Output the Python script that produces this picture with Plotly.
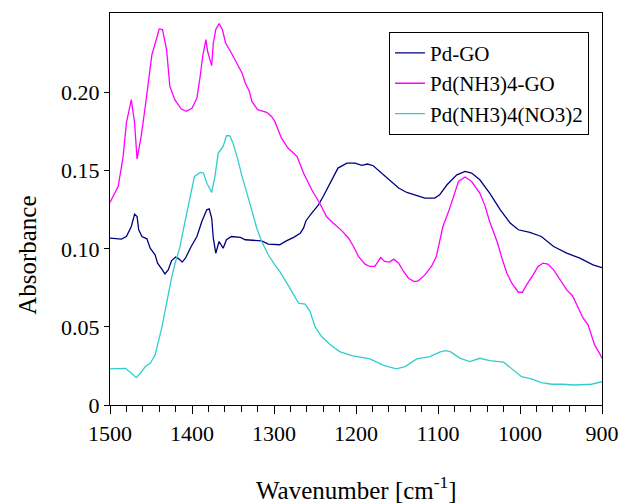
import plotly.graph_objects as go

# IR absorbance spectra, wavenumber in cm^-1 (descending) and absorbance
pdgo_wn = [1500, 1486, 1480, 1474, 1470, 1467, 1465, 1461, 1455, 1451, 1445, 1442,
           1437, 1433, 1429, 1425, 1420, 1416, 1412, 1408, 1401, 1394, 1388, 1382,
           1379, 1376, 1374, 1371, 1367, 1365, 1362, 1358, 1352, 1341, 1335, 1315,
           1307, 1293, 1285, 1276, 1268, 1264, 1261, 1254, 1246, 1240, 1230, 1222,
           1211, 1201, 1193, 1186, 1179, 1171, 1161, 1148, 1138, 1126, 1116, 1104,
           1098, 1089, 1077, 1067, 1059, 1049, 1037, 1024, 1012, 1002, 988, 974,
           959, 943, 927, 911, 900]
pdgo_abs = [0.1068, 0.1062, 0.1079, 0.1143, 0.1222, 0.1207, 0.1122, 0.1079, 0.1064,
            0.1004, 0.0962, 0.0908, 0.0872, 0.0840, 0.0865, 0.0923, 0.0947, 0.0936,
            0.0915, 0.0940, 0.1015, 0.1079, 0.1175, 0.1250, 0.1256, 0.1197, 0.1068,
            0.0972, 0.1047, 0.1026, 0.1004, 0.1058, 0.1079, 0.1073, 0.1058, 0.1051,
            0.1030, 0.1026, 0.1051, 0.1073, 0.1100, 0.1132, 0.1180, 0.1229, 0.1280,
            0.1335, 0.1442, 0.1517, 0.1549, 0.1549, 0.1534, 0.1543, 0.1532, 0.1496,
            0.1453, 0.1389, 0.1361, 0.1340, 0.1325, 0.1325, 0.1346, 0.1410, 0.1474,
            0.1496, 0.1485, 0.1442, 0.1357, 0.1250, 0.1165, 0.1122, 0.1105, 0.1079,
            0.1015, 0.0972, 0.0940, 0.0897, 0.0880]

amgo_wn = [1500, 1490, 1484, 1480, 1474, 1470, 1467, 1462, 1457, 1453, 1449, 1443,
           1440, 1436, 1431, 1427, 1421, 1413, 1407, 1400, 1394, 1390, 1387, 1383,
           1381, 1376, 1374, 1371, 1367, 1363, 1359, 1352, 1344, 1339, 1335, 1330,
           1327, 1320, 1309, 1303, 1299, 1291, 1283, 1272, 1264, 1254, 1244, 1236,
           1228, 1217, 1209, 1203, 1197, 1189, 1183, 1177, 1170, 1165, 1159, 1154,
           1148, 1142, 1136, 1129, 1124, 1116, 1108, 1102, 1098, 1094, 1087, 1081,
           1075, 1067, 1059, 1049, 1043, 1037, 1028, 1022, 1016, 1010, 1002, 997,
           992, 984, 978, 972, 966, 959, 951, 943, 936, 931, 923, 917, 913, 909,
           902, 900]
amgo_abs = [0.1297, 0.1400, 0.1590, 0.1806, 0.1955, 0.1806, 0.1575, 0.1720, 0.1910,
            0.2060, 0.2240, 0.2350, 0.2408, 0.2404, 0.2276, 0.2040, 0.1955, 0.1895,
            0.1880, 0.1900, 0.1966, 0.2105, 0.2233, 0.2340, 0.2265, 0.2173, 0.2318,
            0.2404, 0.2442, 0.2404, 0.2318, 0.2254, 0.2180, 0.2126, 0.2062, 0.2008,
            0.1944, 0.1891, 0.1874, 0.1848, 0.1816, 0.1710, 0.1645, 0.1592, 0.1485,
            0.1378, 0.1290, 0.1207, 0.1165, 0.1115, 0.1068, 0.1015, 0.0951, 0.0902,
            0.0887, 0.0887, 0.0944, 0.0919, 0.0915, 0.0934, 0.0908, 0.0855, 0.0812,
            0.0790, 0.0795, 0.0833, 0.0887, 0.0951, 0.1047, 0.1143, 0.1240, 0.1335,
            0.1431, 0.1460, 0.1431, 0.1357, 0.1280, 0.1175, 0.1047, 0.0940, 0.0844,
            0.0780, 0.0722, 0.0722, 0.0769, 0.0833, 0.0887, 0.0908, 0.0902, 0.0865,
            0.0801, 0.0737, 0.0700, 0.0641, 0.0556, 0.0513, 0.0449, 0.0385, 0.0321,
            0.0300]

salt_wn = [1500, 1490, 1481, 1474, 1468, 1463, 1457, 1451, 1445, 1441, 1437, 1433,
           1429, 1425, 1420, 1415, 1411, 1406, 1401, 1397, 1390, 1386, 1382, 1376,
           1372, 1368, 1362, 1358, 1354, 1350, 1344, 1339, 1333, 1327, 1321, 1315,
           1307, 1299, 1293, 1283, 1276, 1270, 1262, 1256, 1250, 1242, 1232, 1220,
           1205, 1193, 1183, 1167, 1151, 1140, 1126, 1110, 1098, 1091, 1085, 1073,
           1061, 1049, 1037, 1020, 1008, 998, 986, 974, 961, 949, 933, 913, 900]
salt_abs = [0.0231, 0.0235, 0.0235, 0.0203, 0.0175, 0.0203, 0.0246, 0.0267, 0.0320,
            0.0406, 0.0491, 0.0598, 0.0705, 0.0812, 0.0919, 0.1004, 0.1111, 0.1239,
            0.1367, 0.1464, 0.1489, 0.1485, 0.1421, 0.1361, 0.1464, 0.1613, 0.1656,
            0.1724, 0.1724, 0.1677, 0.1570, 0.1464, 0.1357, 0.1239, 0.1132, 0.1047,
            0.0962, 0.0897, 0.0855, 0.0769, 0.0705, 0.0652, 0.0646, 0.0598, 0.0502,
            0.0438, 0.0389, 0.0342, 0.0316, 0.0303, 0.0295, 0.0256, 0.0231, 0.0246,
            0.0295, 0.0310, 0.0338, 0.0348, 0.0342, 0.0299, 0.0278, 0.0299, 0.0284,
            0.0274, 0.0224, 0.0181, 0.0167, 0.0143, 0.0133, 0.0133, 0.0128, 0.0133,
            0.0149]

series_names = ["Pd-GO", "Pd(NH3)4-GO", "Pd(NH3)4(NO3)2"]
series_colors = ["#000080", "#FF00FF", "#33CCCC"]

y_tickvals = [0, 0.05, 0.10, 0.15, 0.20]
y_ticktext = ["0", "0.05", "0.10", "0.15", "0.20"]

FONT = "Liberation Serif"

fig = go.Figure()
for wn, ab, name, color in zip([pdgo_wn, amgo_wn, salt_wn],
                               [pdgo_abs, amgo_abs, salt_abs],
                               series_names, series_colors):
    fig.add_trace(go.Scatter(x=wn, y=ab, mode="lines", name=name,
                             line=dict(color=color, width=1.3)))

fig.update_layout(
    width=625, height=504,
    margin=dict(l=110, r=23, t=13, b=99),
    paper_bgcolor="white", plot_bgcolor="white",
    font=dict(family=FONT, color="black"),
    showlegend=True,
    legend=dict(x=0.567, y=0.952, xanchor="left", yanchor="top",
                bgcolor="white", bordercolor="black", borderwidth=1,
                font=dict(family=FONT, size=21, color="black"),
                tracegroupgap=0),
    xaxis=dict(range=[1500, 900], tickmode="linear", tick0=900, dtick=100,
               ticks="outside", ticklen=8, tickwidth=1.2, tickcolor="black",
               minor=dict(dtick=20, ticks="outside", ticklen=6, tickwidth=1.2,
                          tickcolor="black", showgrid=False),
               showline=True, linecolor="black", linewidth=1.3, mirror=True,
               showgrid=False, zeroline=False, automargin=False,
               tickfont=dict(family=FONT, size=22, color="black")),
    yaxis=dict(range=[0, 0.251], tickmode="array", tickvals=y_tickvals,
               ticktext=y_ticktext, ticks="outside", ticklen=5, tickwidth=1.2,
               tickcolor="black", showline=True, linecolor="black",
               linewidth=1.3, mirror=True, showgrid=False, zeroline=False,
               automargin=False,
               tickfont=dict(family=FONT, size=22, color="black")),
    annotations=[
        dict(text="Absorbance", xref="paper", yref="paper", x=-0.1667, y=0.383,
             xanchor="center", yanchor="middle", textangle=-90, showarrow=False,
             font=dict(family=FONT, size=25, color="black")),
        dict(text="Wavenumber [cm<sup>-1</sup>]", xref="paper", yref="paper",
             x=0.5, y=-0.212, xanchor="center", yanchor="middle",
             showarrow=False, font=dict(family=FONT, size=25, color="black")),
    ],
)

fig.write_html("out.html")
